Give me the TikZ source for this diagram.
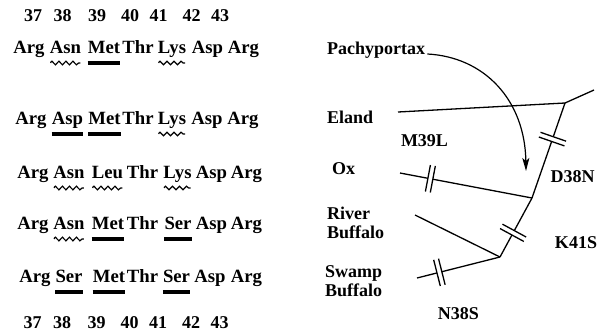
\documentclass[tikz,border=0pt]{standalone}
\usepackage{fontspec}
\setmainfont{Liberation Serif}
\usetikzlibrary{arrows.meta, decorations.pathmorphing, decorations.markings}

\tikzset{
    aa/.style={font=\fontsize{18.7}{22}\selectfont\bfseries, inner sep=0pt, anchor=base},
    num/.style={font=\fontsize{18}{20}\selectfont\bfseries, inner sep=0pt, anchor=base},
    lab/.style={font=\fontsize{18}{19}\selectfont\bfseries, inner sep=0pt, align=left},
    wavy/.style={line width=1.2pt, decorate, decoration={snake, segment length=7pt, amplitude=1.8pt}, shorten <=1pt, shorten >=1pt},
    bar/.style={line width=3.6pt},
    branch/.style={line width=1.3pt},
    brk/.style={postaction={decorate}, decoration={markings, mark=at position #1 with {
        \fill[white] (-2.5pt,-6pt) rectangle (2.5pt,6pt);
        \draw[line width=1.3pt] (-2.5pt,-13.5pt) -- (-2.5pt,13.5pt) (2.5pt,-13.5pt) -- (2.5pt,13.5pt);
    }}},
    pointer/.style={line width=1.2pt, -{Stealth[length=13pt, width=7pt, inset=3pt]}}
}

\begin{document}
\begin{tikzpicture}[x=1pt, y=-1pt]
    \useasboundingbox (0,0) rectangle (603,333);

    \foreach \n/\x [count=\i] in {37/33, 38/62.5, 39/97, 40/130, 41/158.5, 42/191.5, 43/220} {
        \node[num] (nt\i) at (\x, 21.5) {\n};
        \node[num] (nb\i) at (\x-0.5, 328) {\n};
    };

    \foreach \w/\x [count=\i] in {Arg/29, Asn/65.5, Met/104, Thr/138, Lys/172, Asp/207.5, Arg/243.5}
        \node[aa] (pa\i) at (\x, 53) {\w};
    \foreach \w/\x [count=\i] in {Arg/31, Asp/67.5, Met/104.5, Thr/138, Lys/172, Asp/207, Arg/243}
        \node[aa] (el\i) at (\x, 124) {\w};
    \foreach \w/\x [count=\i] in {Arg/33, Asn/69, Leu/107.5, Thr/142.5, Lys/177.5, Asp/211.5, Arg/246.5}
        \node[aa] (ox\i) at (\x, 178) {\w};
    \foreach \w/\x [count=\i] in {Arg/33, Asn/69, Met/108, Thr/142.5, Ser/178, Asp/211.5, Arg/246.5}
        \node[aa] (rb\i) at (\x, 229) {\w};
    \foreach \w/\x [count=\i] in {Arg/35, Ser/69, Met/109, Thr/142.5, Ser/176.5, Asp/210, Arg/246.5}
        \node[aa] (sb\i) at (\x, 282) {\w};

    \foreach \n in {pa2, pa5, el5, ox2, ox3, ox5, rb2}
        \draw[wavy] ([yshift=-10pt]\n.base west) -- ([yshift=-10pt]\n.base east);
    \foreach \n in {pa3, el2, el3, rb3, rb5, sb2, sb3, sb5}
        \draw[bar] ([yshift=-10pt]\n.base west) -- ([yshift=-10pt]\n.base east);

    \node[lab, anchor=base west] (pach) at (327, 54) {Pachyportax};
    \node[lab, anchor=base west] (eland) at (327, 123) {Eland};
    \node[lab, anchor=base] (m39l) at (424.5, 146) {M39L};
    \node[lab, anchor=base west] (ox) at (332, 174) {Ox};
    \node[lab, anchor=base] (d38n) at (572.5, 182) {D38N};
    \node[lab, anchor=west] (river) at (327, 223) {River\\Buffalo};
    \node[lab, anchor=base] (k41s) at (576, 248) {K41S};
    \node[lab, anchor=west] (swamp) at (325, 281) {Swamp\\Buffalo};
    \node[lab, anchor=base] (n38s) at (458.5, 319) {N38S};

    \coordinate (top) at (594, 90);
    \coordinate (j1) at (565, 103);
    \coordinate (j2) at (532, 198);
    \coordinate (j3) at (500, 257);
    \coordinate (e0) at (398, 112);
    \coordinate (o0) at (400, 173);
    \coordinate (r0) at (415, 215);
    \coordinate (s0) at (417, 278);
    \coordinate (tip) at (526, 171);

    \draw[branch] (top) -- (j1) -- (e0);
    \draw[branch, brk=0.38] (j1) -- (j2);
    \draw[branch, brk=0.77] (j2) -- (o0);
    \draw[branch, brk=0.59] (j2) -- (j3);
    \draw[branch] (j3) -- (r0);
    \draw[branch, brk=0.73] (j3) -- (s0);

    \draw[pointer] ([xshift=2pt]pach.base east) .. controls +(57, 3) and +(-1, -71) .. (tip);
\end{tikzpicture}
\end{document}
